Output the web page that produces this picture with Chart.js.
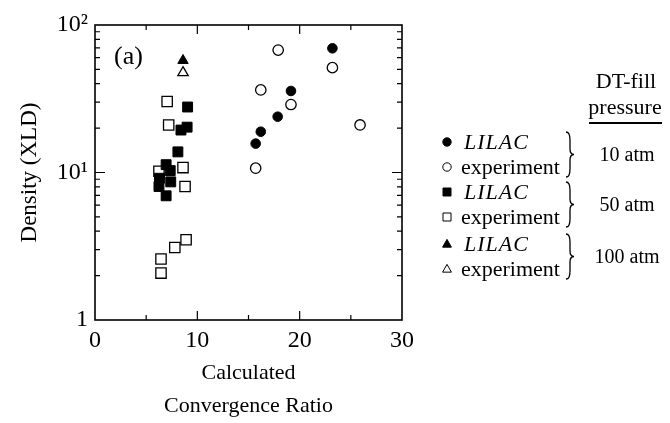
<!DOCTYPE html>
<html>
<head>
<meta charset="utf-8">
<script src="https://cdn.jsdelivr.net/npm/chart.js@4.4.0/dist/chart.umd.min.js"></script>
<style>
  html, body { margin: 0; padding: 0; background: #fff; }
</style>
</head>
<body>
<canvas id="chart" width="670" height="423"></canvas>
<script>
// Tocke [omjer konvergencije, gustoca] procijenjene sa slike
const lilac10 = [[23.2, 69.5], [19.15, 35.7], [17.85, 23.9], [16.2, 18.9], [15.7, 15.7]];
const exp10 = [[17.9, 67.6], [23.2, 51.4], [16.2, 36.3], [19.15, 28.9], [25.9, 21.0], [15.7, 10.7]];
const lilac50 = [[9.05, 27.8], [9.0, 20.3], [8.4, 19.4], [8.1, 13.8], [6.95, 11.3], [7.35, 10.3],
                 [7.4, 8.64], [6.3, 9.14], [6.25, 8.04], [6.95, 6.95]];
const exp50 = [[7.05, 30.3], [7.2, 21.0], [8.6, 10.8], [6.25, 10.2], [8.8, 8.04], [8.9, 3.5],
               [7.8, 3.1], [6.45, 2.59], [6.45, 2.08]];
const lilac100 = [[8.6, 57.5]];
const exp100 = [[8.6, 47.5]];

const xTicks = [0, 10, 20, 30];
const yTicks = [1, 10, 100];
const yTickLabels = ['1', '10\u00B9', '10\u00B2'];

const seriesNames = ['LILAC', 'experiment'];
const pressures = ['10 atm', '50 atm', '100 atm'];
const legendHeader = ['DT-fill', 'pressure'];
const panelLabel = '(a)';

const SERIF = "'Liberation Serif', 'DejaVu Serif', serif";

function toPoints(arr) {
    return arr.map(p => ({ x: p[0], y: p[1] }));
}

function makeSet(label, arr, style, filled, radius) {
    return {
        label: label,
        data: toPoints(arr),
        pointStyle: style,
        pointRadius: radius,
        pointHoverRadius: radius,
        pointBackgroundColor: filled ? '#000' : '#fff',
        pointBorderColor: '#000',
        pointBorderWidth: filled ? 1 : 1.3,
        showLine: false
    };
}

// Oznake za legendu (crtane rucno)
function drawMarker(ctx, style, filled, x, y, r) {
    ctx.beginPath();
    if (style === 'circle') {
        ctx.arc(x, y, r, 0, Math.PI * 2);
    } else if (style === 'rect') {
        ctx.rect(x - r, y - r, 2 * r, 2 * r);
    } else {
        ctx.moveTo(x, y - r * 1.1);
        ctx.lineTo(x + r * 1.05, y + r * 0.75);
        ctx.lineTo(x - r * 1.05, y + r * 0.75);
        ctx.closePath();
    }
    ctx.fillStyle = filled ? '#000' : '#fff';
    ctx.fill();
    ctx.lineWidth = 1;
    ctx.strokeStyle = '#000';
    ctx.stroke();
}

function drawBrace(ctx, x, y1, y2, w) {
    const ym = (y1 + y2) / 2, h = y2 - y1, xm = x + w / 2;
    ctx.beginPath();
    ctx.moveTo(x, y1);
    ctx.quadraticCurveTo(xm, y1, xm, y1 + h * 0.18);
    ctx.lineTo(xm, ym - h * 0.12);
    ctx.quadraticCurveTo(xm, ym, x + w, ym);
    ctx.quadraticCurveTo(xm, ym, xm, ym + h * 0.12);
    ctx.lineTo(xm, y2 - h * 0.18);
    ctx.quadraticCurveTo(xm, y2, x, y2);
    ctx.lineWidth = 1.3;
    ctx.stroke();
}

const frameAndLegend = {
    id: 'frameAndLegend',
    afterDraw(chart) {
        const ctx = chart.ctx;
        const a = chart.chartArea;
        const xs = chart.scales.x, ys = chart.scales.y;
        ctx.save();
        ctx.strokeStyle = '#000';

        // okvir
        ctx.lineWidth = 1.6;
        ctx.strokeRect(a.left, a.top, a.right - a.left, a.bottom - a.top);

        // crtice prema unutra
        ctx.lineWidth = 1.2;
        ctx.beginPath();
        for (let v = 5; v < 30; v += 5) {
            const px = xs.getPixelForValue(v);
            const len = v % 10 === 0 ? 9 : 5;
            ctx.moveTo(px, a.bottom); ctx.lineTo(px, a.bottom - len);
            ctx.moveTo(px, a.top); ctx.lineTo(px, a.top + len);
        }
        for (let d = 1; d < 100; d *= 10) {
            for (let m = 1; m < 10; m++) {
                if (d * m === 1) continue;
                const py = ys.getPixelForValue(d * m);
                const len = m === 1 ? 10 : 5;
                ctx.moveTo(a.left, py); ctx.lineTo(a.left + len, py);
                ctx.moveTo(a.right, py); ctx.lineTo(a.right - len, py);
            }
        }
        ctx.stroke();

        // oznaka panela
        ctx.fillStyle = '#000';
        ctx.font = '26px ' + SERIF;
        ctx.textAlign = 'left';
        ctx.textBaseline = 'middle';
        ctx.fillText(panelLabel, 114, 57);

        // legenda
        const styles = ['circle', 'rect', 'triangle'];
        const rowY = [142, 167, 192, 217, 244, 269];
        for (let g = 0; g < 3; g++) {
            for (let k = 0; k < 2; k++) {
                const y = rowY[g * 2 + k];
                drawMarker(ctx, styles[g], k === 0, 447, y, styles[g] === 'rect' ? 4 : 4.2);
                ctx.fillStyle = '#000';
                ctx.textAlign = 'left';
                if (k === 0) {
                    ctx.font = 'italic 22px ' + SERIF;
                    ctx.letterSpacing = '1px';
                    ctx.fillText(seriesNames[k], 464, y + 1);
                    ctx.letterSpacing = '0px';
                } else {
                    ctx.font = '22px ' + SERIF;
                    ctx.fillText(seriesNames[k], 461, y + 1);
                }
            }
            const top = rowY[g * 2] - 10, bot = rowY[g * 2 + 1] + 10;
            drawBrace(ctx, 566, top, bot, 8);
            ctx.font = '20px ' + SERIF;
            ctx.textAlign = 'center';
            ctx.fillText(pressures[g], 627, (top + bot) / 2 + 1);
        }

        ctx.font = '22px ' + SERIF;
        ctx.textAlign = 'center';
        ctx.fillText(legendHeader[0], 626, 82);
        ctx.fillText(legendHeader[1], 625, 108);
        ctx.lineWidth = 2;
        ctx.beginPath();
        ctx.moveTo(589, 123); ctx.lineTo(662, 123);
        ctx.stroke();
        ctx.restore();
    }
};

const tickFont = { family: SERIF, size: 24, lineHeight: 1.2 };
const titleFont = { family: SERIF, size: 22, lineHeight: 1.5 };

new Chart(document.getElementById('chart'), {
    type: 'scatter',
    data: {
        datasets: [
            makeSet('LILAC 10 atm', lilac10, 'circle', true, 4.8),
            makeSet('LILAC 50 atm', lilac50, 'rect', true, 7),
            makeSet('LILAC 100 atm', lilac100, 'triangle', true, 6),
            makeSet('experiment 10 atm', exp10, 'circle', false, 5.2),
            makeSet('experiment 50 atm', exp50, 'rect', false, 7.3),
            makeSet('experiment 100 atm', exp100, 'triangle', false, 6)
        ]
    },
    options: {
        responsive: false,
        animation: false,
        layout: { padding: { left: 0, top: 25, right: 268, bottom: 0 } },
        plugins: {
            legend: { display: false },
            tooltip: { enabled: false }
        },
        scales: {
            x: {
                type: 'linear',
                min: 0,
                max: 30,
                afterBuildTicks: s => { s.ticks = xTicks.map(v => ({ value: v })); },
                afterFit: s => { s.height = 103; },
                grid: { display: false, drawTicks: false },
                border: { display: false },
                ticks: { color: '#000', font: tickFont, padding: 6, maxRotation: 0 },
                title: {
                    display: true,
                    text: ['Calculated', 'Convergence Ratio'],
                    color: '#000',
                    font: titleFont,
                    padding: { top: 0, bottom: 0 }
                }
            },
            y: {
                type: 'logarithmic',
                min: 1,
                max: 100,
                afterBuildTicks: s => { s.ticks = yTicks.map(v => ({ value: v })); },
                afterFit: s => { s.width = 95; },
                grid: { display: false, drawTicks: false },
                border: { display: false },
                ticks: {
                    color: '#000',
                    font: tickFont,
                    padding: 7,
                    callback: v => yTickLabels[yTicks.indexOf(v)]
                },
                title: {
                    display: true,
                    text: 'Density (XLD)',
                    color: '#000',
                    font: { family: SERIF, size: 23, lineHeight: 1.2 },
                    padding: { top: 16, bottom: 0 }
                }
            }
        }
    },
    plugins: [frameAndLegend]
});
</script>
</body>
</html>
